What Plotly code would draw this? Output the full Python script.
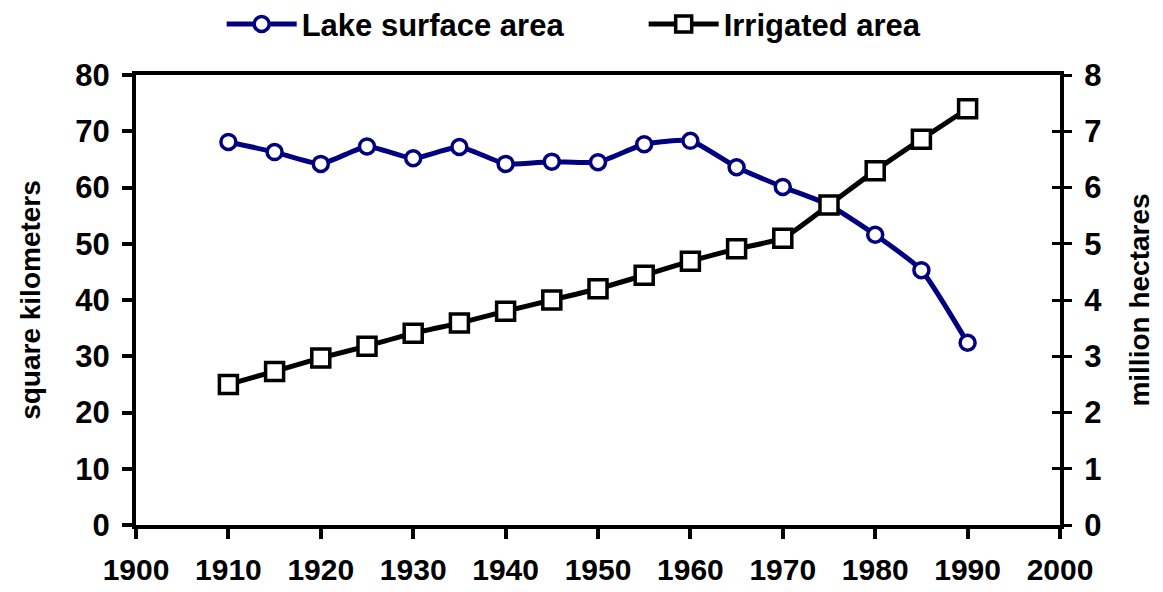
import plotly.graph_objects as go

years = [1910, 1915, 1920, 1925, 1930, 1935, 1940, 1945, 1950,
         1955, 1960, 1965, 1970, 1975, 1980, 1985, 1990]
lake_area = [68.1, 66.3, 64.2, 67.3, 65.2, 67.2, 64.2, 64.6, 64.5,
             67.7, 68.3, 63.6, 60.1, 56.9, 51.6, 45.3, 32.4]
irrigated_area = [2.50, 2.73, 2.97, 3.18, 3.41, 3.59, 3.80, 4.00, 4.20,
                  4.44, 4.69, 4.91, 5.10, 5.69, 6.30, 6.86, 7.40]

font = 'Liberation Sans, Arial, sans-serif'
navy = '#000080'
tick_font = dict(size=31, family=font, weight='bold')

fig = go.Figure()

fig.add_trace(go.Scatter(
    x=years, y=lake_area,
    name='Lake surface area',
    mode='lines+markers',
    line=dict(color=navy, width=5, shape='spline', smoothing=0.5),
    marker=dict(symbol='circle', size=15, color='white',
                line=dict(color=navy, width=3.5)),
    yaxis='y'
))

fig.add_trace(go.Scatter(
    x=years, y=irrigated_area,
    name='Irrigated area',
    mode='lines+markers',
    line=dict(color='black', width=5, shape='spline', smoothing=0.5),
    marker=dict(symbol='square', size=18, color='white',
                line=dict(color='black', width=3.5)),
    yaxis='y2'
))

# invisible helper so the right axis ticks cross the axis line
fig.add_trace(go.Scatter(x=[None], y=[None], yaxis='y3', showlegend=False))

# the page body adds an 8px offset, so the figure is sized to fit inside it
fig.update_layout(
    width=1155, height=584,
    margin=dict(l=128, r=103, t=67, b=67),
    plot_bgcolor='white',
    paper_bgcolor='white',
    font=dict(family=font, size=26, color='black', weight='bold'),
    showlegend=True,
    legend=dict(
        orientation='h',
        xref='container', yref='container',
        x=0.185, xanchor='left',
        y=0.972, yanchor='middle',
        font=dict(size=31, family=font, weight='bold'),
        itemwidth=70,
        entrywidth=337,
    ),
    xaxis=dict(
        range=[1900, 2000],
        tickvals=list(range(1900, 2001, 10)),
        showgrid=False, zeroline=False, automargin=False,
        showline=True, linecolor='black', linewidth=4, mirror=True,
        ticks='outside', ticklen=10, tickwidth=4, tickcolor='black',
        ticklabelstandoff=5,
        tickfont=dict(size=30, family=font, weight='bold'),
    ),
    yaxis=dict(
        range=[0, 80],
        tickvals=list(range(0, 81, 10)),
        showgrid=False, zeroline=False, automargin=False,
        showline=True, linecolor='black', linewidth=4,
        ticks='outside', ticklen=10, tickwidth=4, tickcolor='black',
        ticklabelstandoff=6,
        tickfont=tick_font,
        title=dict(text='square kilometers', standoff=28,
                   font=dict(size=28, family=font, weight='bold')),
    ),
    yaxis2=dict(
        range=[0, 8],
        tickvals=list(range(0, 9)),
        overlaying='y', side='right',
        showgrid=False, zeroline=False, automargin=False,
        showline=True, linecolor='black', linewidth=4,
        ticks='outside', ticklen=8, tickwidth=3, tickcolor='black',
        ticklabelstandoff=6,
        tickfont=tick_font,
        title=dict(text='million hectares', standoff=29,
                   font=dict(size=28, family=font, weight='bold')),
    ),
    yaxis3=dict(
        range=[0, 8],
        tickvals=list(range(0, 9)),
        overlaying='y', side='right',
        showgrid=False, zeroline=False, showline=False, automargin=False,
        ticks='inside', ticklen=8, tickwidth=3, tickcolor='black',
        showticklabels=False,
    ),
)

fig.write_html('out.html')
